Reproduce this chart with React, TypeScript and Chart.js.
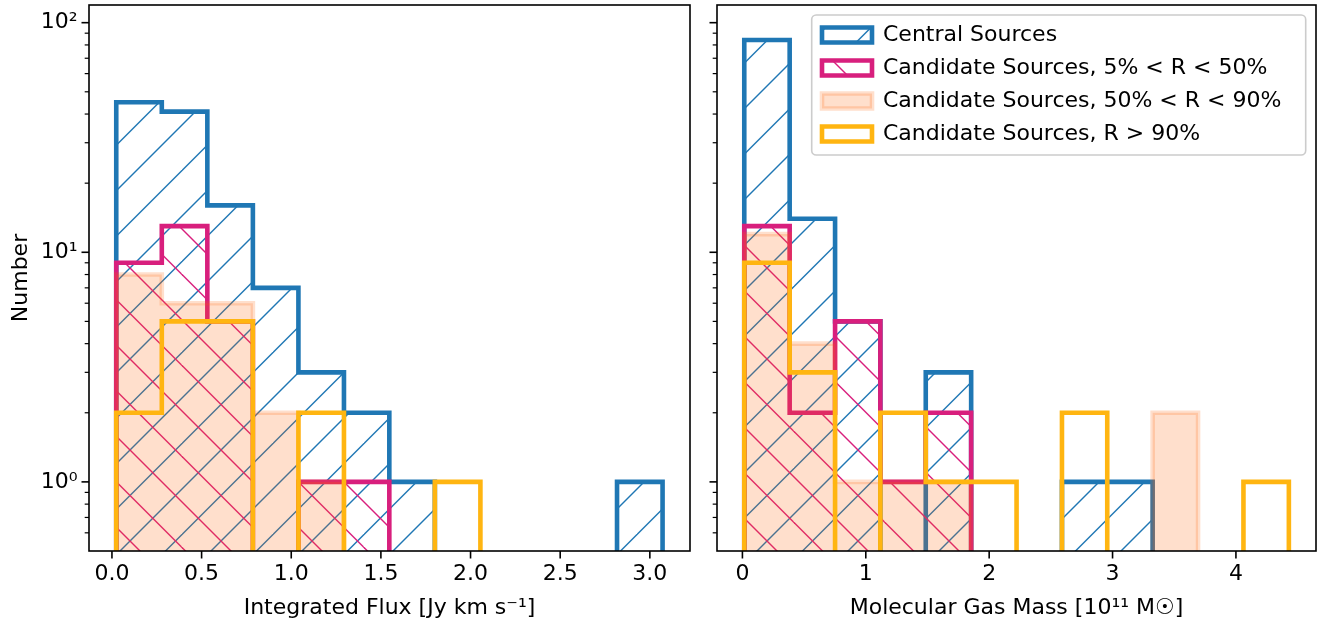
import React, { useEffect, useRef } from 'react';
import { Chart, registerables } from 'chart.js';

Chart.register(...registerables);

// ---------- data ----------
const seriesLabels = [
  'Central Sources',
  'Candidate Sources, 5% < R < 50%',
  'Candidate Sources, 50% < R < 90%',
  'Candidate Sources, R > 90%',
];

const fluxBinEdges = [0.024, 0.278, 0.532, 0.786, 1.04, 1.294, 1.547, 1.801, 2.055, 2.309, 2.563, 2.817, 3.071];
const fluxCentral = [45, 41, 16, 7, 3, 2, 1, 0, 0, 0, 0, 1];
const fluxCand5to50 = [9, 13, 5, 0, 1, 1, 0, 0, 0, 0, 0, 0];
const fluxCand50to90 = [8, 6, 6, 2, 1, 0, 0, 0, 0, 0, 0, 0];
const fluxCand90 = [2, 5, 5, 0, 2, 0, 0, 1, 0, 0, 0, 0];

const massBinEdges = [0.015, 0.383, 0.751, 1.118, 1.486, 1.854, 2.222, 2.59, 2.957, 3.325, 3.693, 4.061, 4.429];
const massCentral = [84, 14, 5, 0, 3, 0, 0, 1, 1, 0, 0, 0];
const massCand5to50 = [13, 2, 5, 1, 2, 0, 0, 0, 0, 0, 0, 0];
const massCand50to90 = [12, 4, 1, 1, 1, 0, 0, 0, 0, 2, 0, 0];
const massCand90 = [9, 3, 0, 2, 1, 1, 0, 2, 0, 0, 0, 1];

const fluxTicks = [0, 0.5, 1, 1.5, 2, 2.5, 3];
const massTicks = [0, 1, 2, 3, 4];
const yTicks = [0.6, 0.7, 0.8, 0.9, 1, 2, 3, 4, 5, 6, 7, 8, 9, 10, 20, 30, 40, 50, 60, 70, 80, 90, 100];
const yMajorTicks = [1, 10, 100];
const yMajorLabels = ['10⁰', '10¹', '10²'];

const fluxTitle = 'Integrated Flux [Jy km s⁻¹]';
const massTitle = 'Molecular Gas Mass [10¹¹ M☉]';
const yTitle = 'Number';

// ---------- styles ----------
const BLUE = '#1f77b4';
const MAGENTA = '#d81f7d';
const PEACH = 'rgba(254, 97, 0, 0.2)';
const ORANGE = '#ffb511';
const FONT = "'DejaVu Sans', 'Liberation Sans', sans-serif";
const FLOOR = 1e-3;
const HATCH_P = 45.5;

Chart.defaults.font.family = FONT;
Chart.defaults.font.size = 22;
Chart.defaults.color = '#000';

function stepPoints(edges: number[], counts: number[]) {
  const pts: { x: number; y: number }[] = [{ x: edges[0], y: FLOOR }];
  counts.forEach((c, i) => {
    const y = c > 0 ? c : FLOOR;
    pts.push({ x: edges[i], y }, { x: edges[i + 1], y });
  });
  pts.push({ x: edges[edges.length - 1], y: FLOOR });
  return pts;
}

function makeHatch(color: string, dir: 'fwd' | 'back', phase: number, offsetX: number) {
  const T = 91;
  const c = document.createElement('canvas');
  c.width = T;
  c.height = T;
  const g = c.getContext('2d')!;
  g.strokeStyle = color;
  g.lineWidth = 1.4;
  const m = (v: number) => ((v % HATCH_P) + HATCH_P) % HATCH_P;
  for (let k = -5; k <= 9; k++) {
    g.beginPath();
    if (dir === 'fwd') {
      const s = m(phase - offsetX) + k * HATCH_P; // x + y = s
      g.moveTo(s + 20, -20);
      g.lineTo(s - T - 20, T + 20);
    } else {
      const s = m(phase + offsetX) + k * HATCH_P; // y - x = s
      g.moveTo(-20, s - 20);
      g.lineTo(T + 20, s + T + 20);
    }
    g.stroke();
  }
  return g.createPattern(c, 'repeat')!;
}

const axesFrame = {
  id: 'axesFrame',
  afterDatasetsDraw(chart: any) {
    const { ctx, chartArea: a } = chart;
    ctx.save();
    ctx.strokeStyle = '#000';
    ctx.lineWidth = 1.6;
    ctx.strokeRect(a.left, a.top, a.right - a.left, a.bottom - a.top);
    const xs = chart.scales.x;
    xs.ticks.forEach((t: any) => {
      const px = xs.getPixelForValue(t.value);
      ctx.beginPath();
      ctx.moveTo(px, a.bottom);
      ctx.lineTo(px, a.bottom + 7.5);
      ctx.stroke();
    });
    const ys = chart.scales.y;
    ys.ticks.forEach((t: any) => {
      const py = ys.getPixelForValue(t.value);
      const major = yMajorTicks.includes(t.value);
      ctx.lineWidth = major ? 1.6 : 1.2;
      ctx.beginPath();
      ctx.moveTo(a.left, py);
      ctx.lineTo(a.left - (major ? 7.5 : 4.3), py);
      ctx.stroke();
    });
    ctx.restore();
  },
};

const legendPlacer = {
  id: 'legendPlacer',
  afterLayout(chart: any) {
    const lg = chart.legend;
    if (!lg || !lg.options.display) return;
    const a = chart.chartArea;
    lg.left = a.right - 505;
    lg.top = a.top + 8;
    lg.width = 495;
    lg.height = 150;
    lg.right = lg.left + lg.width;
    lg.bottom = lg.top + lg.height;
  },
  beforeDraw(chart: any) {
    const lg = chart.legend;
    if (!lg || !lg.options.display) return;
    const a = chart.chartArea;
    const x0 = a.right - 504.3;
    const x1 = a.right - 10.3;
    const y0 = a.top + 10;
    const y1 = a.top + 150;
    const r = 4.5;
    const ctx = chart.ctx;
    ctx.save();
    ctx.beginPath();
    ctx.moveTo(x0 + r, y0);
    ctx.arcTo(x1, y0, x1, y1, r);
    ctx.arcTo(x1, y1, x0, y1, r);
    ctx.arcTo(x0, y1, x0, y0, r);
    ctx.arcTo(x0, y0, x1, y0, r);
    ctx.closePath();
    ctx.fillStyle = 'rgba(255,255,255,0.8)';
    ctx.fill();
    ctx.strokeStyle = '#cccccc';
    ctx.lineWidth = 1.6;
    ctx.stroke();
    ctx.restore();
  },
};

interface PanelOpts {
  edges: number[];
  series: number[][];
  xMin: number;
  xMax: number;
  xTicks: number[];
  fmt: (v: number) => string;
  xTitle: string;
  showY: boolean;
  yWidth: number;
  padRight: number;
  offsetX: number;
  legend: boolean;
}

function buildChart(canvas: HTMLCanvasElement, o: PanelOpts) {
  const hatchBlue = makeHatch(BLUE, 'fwd', 34, o.offsetX);
  const hatchMag = makeHatch(MAGENTA, 'back', 1.5, o.offsetX);
  const common = {
    borderWidth: 4.6,
    pointRadius: 0,
    pointHoverRadius: 0,
    tension: 0,
    clip: 0,
    borderJoinStyle: 'miter' as const,
    borderCapStyle: 'butt' as const,
  };
  const datasets: any[] = [
    { ...common, label: seriesLabels[0], data: stepPoints(o.edges, o.series[0]), borderColor: BLUE, backgroundColor: hatchBlue, fill: 'start', order: 4 },
    { ...common, label: seriesLabels[1], data: stepPoints(o.edges, o.series[1]), borderColor: MAGENTA, backgroundColor: hatchMag, fill: 'start', order: 3 },
    { ...common, label: seriesLabels[2], data: stepPoints(o.edges, o.series[2]), borderColor: PEACH, backgroundColor: PEACH, fill: 'start', order: 2 },
    { ...common, label: seriesLabels[3], data: stepPoints(o.edges, o.series[3]), borderColor: ORANGE, backgroundColor: 'rgba(255,255,255,0)', fill: false, order: 1 },
  ];
  return new Chart(canvas, {
    type: 'line',
    data: { datasets },
    options: {
      animation: false,
      responsive: false,
      devicePixelRatio: 1,
      events: [],
      layout: { padding: { left: 0, top: 5, right: o.padRight, bottom: 0 } },
      plugins: {
        tooltip: { enabled: false },
        legend: {
          display: o.legend,
          position: 'chartArea',
          align: 'start',
          labels: {
            boxWidth: 50,
            boxHeight: 15,
            padding: 11,
            color: '#000',
            font: { family: FONT, size: 22 },
            sort: (a: any, b: any) => a.datasetIndex - b.datasetIndex,
          },
        },
      },
      scales: {
        x: {
          type: 'linear',
          min: o.xMin,
          max: o.xMax,
          afterBuildTicks: (s: any) => {
            s.ticks = o.xTicks.map((v) => ({ value: v }));
          },
          afterFit: (s: any) => {
            s.height = 68;
            s.paddingLeft = 0;
            s.paddingRight = 0;
            s.paddingTop = 0;
            s.paddingBottom = 0;
          },
          ticks: { autoSkip: false, maxRotation: 0, minRotation: 0, padding: 2.5, callback: (v: any) => o.fmt(Number(v)), font: { family: FONT, size: 22 } },
          grid: { display: false, drawTicks: true, tickLength: 7.5 },
          border: { display: false },
          title: { display: true, text: o.xTitle, font: { family: FONT, size: 22, lineHeight: 1 }, padding: { top: 0, bottom: 0 } },
        },
        y: {
          type: 'logarithmic',
          min: 0.5,
          max: 119.4,
          afterBuildTicks: (s: any) => {
            s.ticks = yTicks.map((v) => ({ value: v }));
          },
          afterFit: (s: any) => {
            s.width = o.yWidth;
            s.paddingLeft = 0;
            s.paddingRight = 0;
            s.paddingTop = 0;
            s.paddingBottom = 0;
          },
          ticks: {
            display: o.showY,
            autoSkip: false,
            padding: 4,
            font: { family: FONT, size: 22 },
            callback: (v: any) => {
              const i = yMajorTicks.indexOf(Number(v));
              return i >= 0 ? yMajorLabels[i] : '';
            },
          },
          grid: { display: false, drawTicks: true, tickLength: 7.5 },
          border: { display: false },
          title: { display: o.showY, text: yTitle, font: { family: FONT, size: 22, lineHeight: 1 }, padding: { top: 10, bottom: 0 } },
        },
      },
    } as any,
    plugins: [axesFrame, legendPlacer],
  });
}

export default function App() {
  const leftRef = useRef<HTMLCanvasElement>(null);
  const rightRef = useRef<HTMLCanvasElement>(null);

  useEffect(() => {
    const left = buildChart(leftRef.current!, {
      edges: fluxBinEdges,
      series: [fluxCentral, fluxCand5to50, fluxCand50to90, fluxCand90],
      xMin: -0.128,
      xMax: 3.224,
      xTicks: fluxTicks,
      fmt: (v) => v.toFixed(1),
      xTitle: fluxTitle,
      showY: true,
      yWidth: 89,
      padRight: 13,
      offsetX: 0,
      legend: false,
    });
    const right = buildChart(rightRef.current!, {
      edges: massBinEdges,
      series: [massCentral, massCand5to50, massCand50to90, massCand90],
      xMin: -0.206,
      xMax: 4.649,
      xTicks: massTicks,
      fmt: (v) => String(v),
      xTitle: massTitle,
      showY: false,
      yWidth: 14,
      padRight: 2,
      offsetX: 703,
      legend: true,
    });
    return () => {
      left.destroy();
      right.destroy();
    };
  }, []);

  return (
    <div style={{ position: 'absolute', left: 0, top: 0, width: 1318, height: 619, background: '#fff' }}>
      <canvas ref={leftRef} width={703} height={619} style={{ position: 'absolute', left: 0, top: 0 }} />
      <canvas ref={rightRef} width={615} height={619} style={{ position: 'absolute', left: 703, top: 0 }} />
    </div>
  );
}
